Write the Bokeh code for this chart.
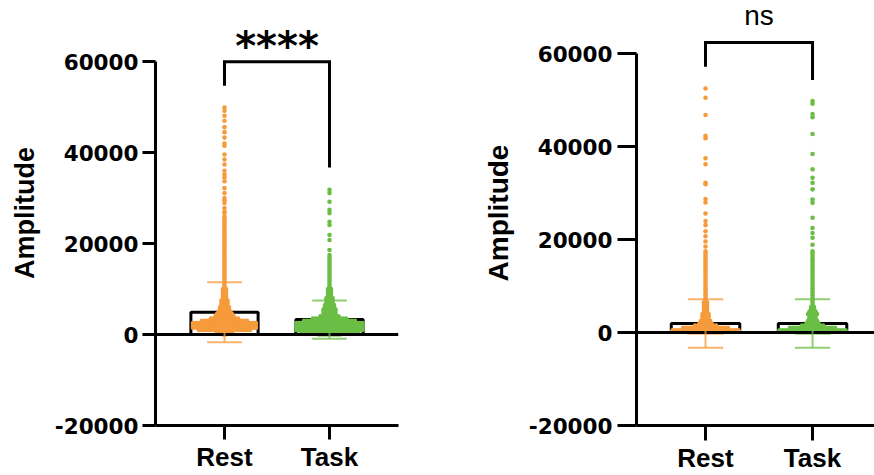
from bokeh.plotting import figure
from bokeh.layouts import row
from bokeh.models import FixedTicker, Range1d
from bokeh.core.properties import value
from bokeh.embed import file_html
from bokeh.resources import INLINE

# ---------------- data ----------------
categories = ["Rest", "Task"]
cat_pos = [1, 2]
y_ticks = [-20000, 0, 20000, 40000, 60000]
y_tick_labels = ["-20000", "0", "20000", "40000", "60000"]
y_label = "Amplitude"

# left panel
a_rest_sparse = [49900, 49200, 48100, 47000, 45600, 44500, 43300, 42000, 41500, 39600,
                 38500, 37400, 36000, 35200, 34500, 33700, 32200, 31100, 30000, 29500,
                 28900, 27800, 27000, 26700]
a_rest_levels = [26000, 25500, 25000, 24500, 24000, 23500, 23000, 22500, 22000, 21500,
                 21000, 20500, 20000, 19500, 19000, 18500, 18000, 17500, 17000, 16500,
                 16000, 15500, 15000, 14500, 14000, 13500, 13000, 12500, 12000, 11500,
                 11000, 10500, 10000, 9500, 9000, 8500, 8000, 7500, 7000, 6500,
                 6000, 5500, 5000, 4500, 4000, 3500, 3000, 2500, 2000, 1500,
                 1000, 500, 0]
a_rest_counts = [1, 1, 1, 1, 1, 1, 1, 1, 1, 1,
                 1, 1, 1, 1, 1, 1, 1, 1, 1, 1,
                 1, 1, 1, 1, 1, 1, 1, 1, 1, 1,
                 1, 1, 2, 2, 2, 2, 2, 3, 3, 3,
                 4, 4, 5, 6, 7, 10, 16, 22, 22, 22,
                 18, 6, 2]
a_task_sparse = [31800, 31100, 29200, 27400, 26700, 24800, 24100, 21900, 20800, 18600, 17500]
a_task_levels = [17000, 16500, 16000, 15500, 15000, 14500, 14000, 13500, 13000, 12500,
                 12000, 11500, 11000, 10500, 10000, 9500, 9000, 8500, 8000, 7500,
                 7000, 6500, 6000, 5500, 5000, 4500, 4000, 3500, 3000, 2500,
                 2000, 1500, 1000, 500, 0]
a_task_counts = [1, 1, 1, 1, 1, 1, 1, 1, 1, 1,
                 1, 1, 1, 1, 2, 2, 2, 2, 3, 3,
                 3, 4, 4, 5, 5, 5, 7, 12, 18, 23,
                 23, 23, 23, 20, 8]
a_means = [4900, 3300]
a_sds = [6600, 4200]
a_sig = "****"
a_bracket_top = 60000
a_bracket_ends = [54700, 36700]

# right panel
b_rest_sparse = [52500, 50500, 46800, 42300, 41800, 37500, 36200, 32200, 31900, 28700,
                 28000, 25600, 24000, 23100, 21800, 20700, 19600, 18500]
b_rest_levels = [17500, 17000, 16500, 16000, 15500, 15000, 14500, 14000, 13500, 13000,
                 12500, 12000, 11500, 11000, 10500, 10000, 9500, 9000, 8500, 8000,
                 7500, 7000, 6500, 6000, 5500, 5000, 4500, 4000, 3500, 3000,
                 2500, 2000, 1500, 1000, 500, 0]
b_rest_counts = [1, 1, 1, 1, 1, 1, 1, 1, 1, 1,
                 1, 1, 1, 1, 1, 1, 1, 1, 1, 1,
                 1, 1, 2, 2, 2, 2, 2, 3, 3, 3,
                 4, 5, 8, 16, 23, 12]
b_task_sparse = [49800, 49200, 47000, 46300, 42700, 38400, 35100, 33300, 32200, 30800,
                 28600, 27900, 24700, 22500, 21400, 20400, 18900, 17500]
b_task_levels = [17000, 16500, 16000, 15500, 15000, 14500, 14000, 13500, 13000, 12500,
                 12000, 11500, 11000, 10500, 10000, 9500, 9000, 8500, 8000, 7500,
                 7000, 6500, 6000, 5500, 5000, 4500, 4000, 3500, 3000, 2500,
                 2000, 1500, 1000, 500, 0]
b_task_counts = [1, 1, 1, 1, 1, 1, 1, 1, 1, 1,
                 1, 1, 1, 1, 1, 1, 1, 1, 1, 1,
                 1, 1, 1, 2, 2, 3, 4, 3, 3, 4,
                 5, 8, 16, 23, 12]
b_means = [1950, 1950]
b_sds = [5200, 5200]
b_sig = "ns"
b_bracket_top = 62370
b_bracket_ends = [57170, 54350]

COLORS = ["#F59B3C", "#6BBE45"]
LABEL_FONT = "Liberation Sans"
TICK_FONT = "DejaVu Sans"


def swarm(xc, sparse, levels, counts, step):
    xs, ys = [], []
    for v in sparse:
        xs.append(xc)
        ys.append(v)
    for v, n in zip(levels, counts):
        for i in range(n):
            xs.append(xc + (i - (n - 1) / 2) * step)
            ys.append(v)
    return xs, ys


def panel(width, height, x_range, y_range, border_left, border_right,
          tick_out, ytick_standoff, label_size, groups, means, sds, sig, sig_font,
          sig_style, sig_size, sig_y, bracket_top, bracket_ends, frame_w, xtick_out):
    p = figure(width=width, height=height, x_range=Range1d(*x_range), y_range=Range1d(*y_range),
               output_backend="svg", toolbar_location=None,
               min_border_left=border_left, min_border_right=border_right,
               min_border_top=0, min_border_bottom=30)
    p.outline_line_color = None
    p.xgrid.visible = False
    p.ygrid.visible = False
    p.background_fill_color = "white"
    p.border_fill_color = "white"

    px_per_unit = frame_w / (x_range[1] - x_range[0])
    step = 3.0 / px_per_unit
    bar_w = 0.64
    cap = 0.165

    # bars
    p.vbar(x=cat_pos, top=means, bottom=0, width=bar_w, fill_color="white",
           line_color="black", line_width=3)
    # dots
    for k, (sp, lv, ct) in enumerate(groups):
        xs, ys = swarm(cat_pos[k], sp, lv, ct, step)
        p.scatter(xs, ys, size=4.6, color=COLORS[k], line_color=None)
    # zero line
    p.segment(x0=[x_range[0]], y0=[0], x1=[x_range[1]], y1=[0], line_color="black", line_width=3)
    # error bars (mean +/- SD)
    for k in range(2):
        lo = means[k] - sds[k]
        hi = means[k] + sds[k]
        xc = cat_pos[k]
        p.segment(x0=[xc, xc - cap, xc - cap], y0=[lo, hi, lo],
                  x1=[xc, xc + cap, xc + cap], y1=[hi, hi, lo],
                  line_color=COLORS[k], line_width=2, line_alpha=0.75)
    # significance bracket
    p.line(x=[cat_pos[0], cat_pos[0], cat_pos[1], cat_pos[1]],
           y=[bracket_ends[0], bracket_top, bracket_top, bracket_ends[1]],
           line_color="black", line_width=3, line_join="miter")
    p.text(x=[(cat_pos[0] + cat_pos[1]) / 2], y=[sig_y], text=[sig],
           text_font=value(sig_font), text_font_style=sig_style, text_font_size=sig_size,
           text_align="center", text_baseline="alphabetic", text_color="black")

    # y axis
    ya = p.yaxis[0]
    ya.ticker = FixedTicker(ticks=y_ticks)
    ya.major_label_overrides = {t: l for t, l in zip(y_ticks, y_tick_labels)}
    ya.bounds = (y_ticks[0], y_ticks[-1])
    ya.axis_line_width = 3
    ya.major_tick_line_width = 3
    ya.major_tick_out = tick_out
    ya.major_tick_in = 0
    ya.minor_tick_line_color = None
    ya.major_label_standoff = ytick_standoff
    ya.major_label_text_font = TICK_FONT
    ya.major_label_text_font_style = "bold"
    ya.major_label_text_font_size = "21.5px"
    ya.major_label_text_color = "black"
    ya.axis_label = y_label
    ya.axis_label_text_font = LABEL_FONT
    ya.axis_label_text_font_style = "bold"
    ya.axis_label_text_font_size = label_size
    ya.axis_label_text_color = "black"
    ya.axis_label_standoff = 12

    # x axis
    xa = p.xaxis[0]
    xa.ticker = FixedTicker(ticks=cat_pos)
    xa.major_label_overrides = {t: c for t, c in zip(cat_pos, categories)}
    xa.axis_line_width = 3
    xa.major_tick_line_width = 3
    xa.major_tick_out = xtick_out
    xa.major_tick_in = 0
    xa.minor_tick_line_color = None
    xa.major_label_standoff = 2
    xa.major_label_text_font = LABEL_FONT
    xa.major_label_text_font_style = "bold"
    xa.major_label_text_font_size = "26px"
    xa.major_label_text_color = "black"
    return p


left = panel(437, 475, (0.343, 2.657), (-20000, 73444), 155, 39, 13, 4, "27px",
             [(a_rest_sparse, a_rest_levels, a_rest_counts),
              (a_task_sparse, a_task_levels, a_task_counts)],
             a_means, a_sds, a_sig, "DejaVu Sans", "bold", "40px", 63500,
             a_bracket_top, a_bracket_ends, 243, 14)

right = panel(437, 475, (0.355, 2.579), (-20000, 71429), 199, 0, 19, 5, "28px",
              [(b_rest_sparse, b_rest_levels, b_rest_counts),
               (b_task_sparse, b_task_levels, b_task_counts)],
              b_means, b_sds, b_sig, "Liberation Sans", "normal", "28px", 68150,
              b_bracket_top, b_bracket_ends, 238, 15)

layout = row(left, right)
open("out.html", "w").write(file_html(layout, INLINE))
